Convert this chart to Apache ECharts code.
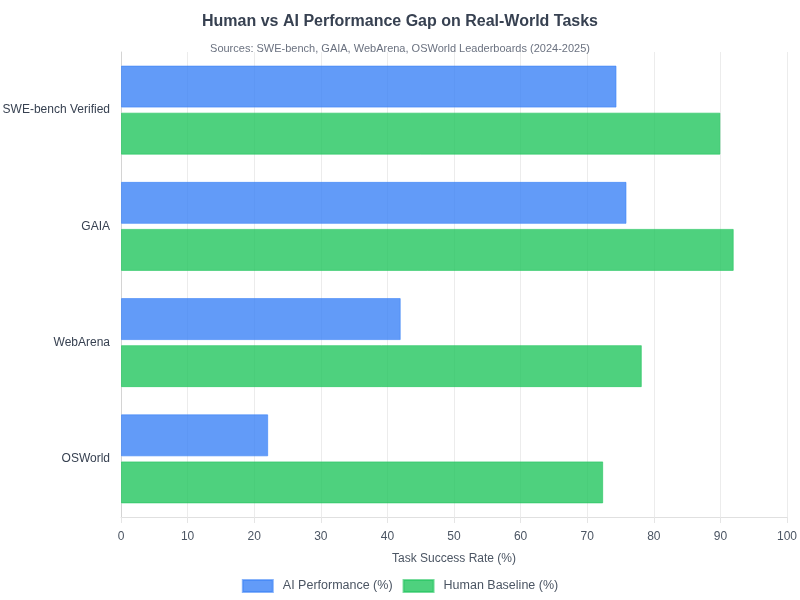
<!DOCTYPE html>
<html>
<head>
<meta charset="utf-8">
<script src="https://cdn.jsdelivr.net/npm/echarts@6/dist/echarts.min.js"></script>
<style>
  html, body { margin: 0; padding: 0; background: #fff; }
  #chart { width: 800px; height: 600px; }
</style>
</head>
<body>
<div id="chart"></div>
<script>
// data
const categories = ['SWE-bench Verified', 'GAIA', 'WebArena', 'OSWorld'];
const aiPerformance = [74.4, 75.9, 42.0, 22.1];
const humanBaseline = [90.0, 92.0, 78.2, 72.4];
const xTicks = [0, 10, 20, 30, 40, 50, 60, 70, 80, 90, 100];

const fontFamily = '"Liberation Sans", Arial, sans-serif';

const chart = echarts.init(document.getElementById('chart'));

chart.setOption({
    animation: false,
    textStyle: { fontFamily: fontFamily },
    title: [
        {
            text: 'Human vs AI Performance Gap on Real-World Tasks',
            left: 'center',
            top: 9,
            textStyle: { fontSize: 16, fontWeight: 'bold', color: '#374151', fontFamily: fontFamily }
        },
        {
            text: 'Sources: SWE-bench, GAIA, WebArena, OSWorld Leaderboards (2024-2025)',
            left: 'center',
            top: 38,
            textStyle: { fontSize: 11, fontWeight: 'normal', color: '#6b7280', fontFamily: fontFamily }
        }
    ],
    legend: {
        bottom: 2,
        left: 'center',
        itemWidth: 30,
        itemHeight: 12,
        itemGap: 10,
        icon: 'rect',
        textStyle: { fontSize: 12.5, color: '#4b5563', fontFamily: fontFamily, padding: [0, 0, 0, 5] },
        data: ['AI Performance (%)', 'Human Baseline (%)']
    },
    grid: { left: 121, right: 13, top: 52, bottom: 83, containLabel: false, outerBoundsMode: 'none' },
    xAxis: {
        type: 'value',
        min: xTicks[0],
        max: xTicks[xTicks.length - 1],
        interval: 10,
        name: 'Task Success Rate (%)',
        nameLocation: 'middle',
        nameGap: 36,
        nameTextStyle: { fontSize: 12, color: '#4b5563', fontFamily: fontFamily },
        axisLine: { show: true, lineStyle: { color: '#e0e0e0' } },
        axisTick: { show: true, length: 6, lineStyle: { color: '#e5e5e5' } },
        axisLabel: { fontSize: 12, color: '#4b5563', margin: 14, fontFamily: fontFamily },
        splitLine: { show: true, lineStyle: { color: '#ececec' } }
    },
    yAxis: {
        type: 'category',
        data: categories,
        inverse: true,
        axisLine: { show: true, lineStyle: { color: '#d4d4d4' } },
        axisTick: { show: false },
        axisLabel: { fontSize: 12, color: '#374151', margin: 11, fontFamily: fontFamily },
        splitLine: { show: false }
    },
    series: [
        {
            name: 'AI Performance (%)',
            type: 'bar',
            data: aiPerformance,
            barWidth: 42,
            barGap: '12%',
            itemStyle: { color: 'rgba(59,130,246,0.8)', borderColor: 'rgba(59,130,246,0.6)', borderWidth: 1 }
        },
        {
            name: 'Human Baseline (%)',
            type: 'bar',
            data: humanBaseline,
            barWidth: 42,
            itemStyle: { color: 'rgba(34,197,94,0.8)', borderColor: 'rgba(34,197,94,0.6)', borderWidth: 1 }
        }
    ]
});
</script>
</body>
</html>
